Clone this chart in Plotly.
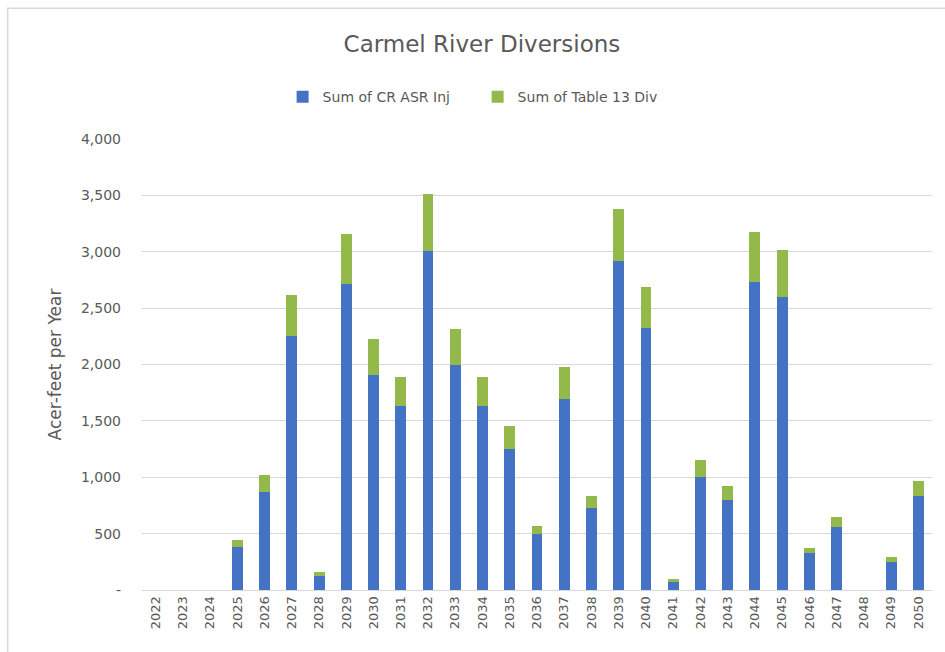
import plotly.graph_objects as go

years = [str(y) for y in range(2022, 2051)]
cr_asr_inj = [0, 0, 0, 385, 870, 2250, 120, 2710, 1910, 1635, 3010, 2000, 1635, 1255,
              500, 1695, 725, 2915, 2320, 75, 1000, 800, 2735, 2600, 330, 560, 0, 250, 830]
table13_div = [0, 0, 0, 55, 150, 370, 40, 450, 315, 255, 500, 315, 255, 200,
               65, 285, 110, 465, 370, 25, 150, 120, 440, 415, 40, 90, 0, 45, 140]
y_ticks = [0, 500, 1000, 1500, 2000, 2500, 3000, 3500, 4000]
y_tick_text = ["-", "500", "1,000", "1,500", "2,000", "2,500", "3,000", "3,500", "4,000"]

FONT = "'DejaVu Sans', sans-serif"
GREY = "#595959"

fig = go.Figure()
fig.add_trace(go.Bar(x=years, y=cr_asr_inj, name="Sum of CR ASR Inj",
                     marker=dict(color="#4472C4", line=dict(width=0))))
fig.add_trace(go.Bar(x=years, y=table13_div, name="Sum of Table 13 Div",
                     marker=dict(color="#92B94A", line=dict(width=0))))

fig.update_layout(
    barmode="stack",
    bargap=0.6,
    width=945, height=652,
    margin=dict(l=142, r=13, t=139, b=62),
    paper_bgcolor="white",
    plot_bgcolor="white",
    font=dict(family=FONT, color=GREY),
    title=dict(text="Carmel River Diversions", x=0.51, xanchor="center",
               y=0.932, yanchor="middle",
               font=dict(family=FONT, size=23, color=GREY)),
    legend=dict(orientation="h", x=0.178, xanchor="left", y=1.093, yanchor="middle",
                font=dict(family=FONT, size=14, color=GREY),
                traceorder="normal", itemwidth=30,
                entrywidth=150, entrywidthmode="pixels"),
    xaxis=dict(type="category", tickangle=-90, showgrid=False,
               tickfont=dict(family=FONT, size=13, color=GREY),
               showline=True, linecolor="#D9D9D9", linewidth=1, ticks=""),
    yaxis=dict(range=[0, 4000], tickvals=y_ticks, ticktext=y_tick_text,
               gridcolor="#D9D9D9", gridwidth=1, zeroline=False,
               tickfont=dict(family=FONT, size=14, color=GREY),
               ticklabelstandoff=20,
               title=dict(text="Acer-feet per Year", standoff=14,
                          font=dict(family=FONT, size=17, color=GREY))),
    shapes=[dict(type="rect", xref="paper", yref="paper",
                 x0=-0.170, x1=1.2, y0=-0.6, y1=1.29,
                 line=dict(color="#D9D9D9", width=1.5), layer="below")],
)

fig.write_html("out.html")
